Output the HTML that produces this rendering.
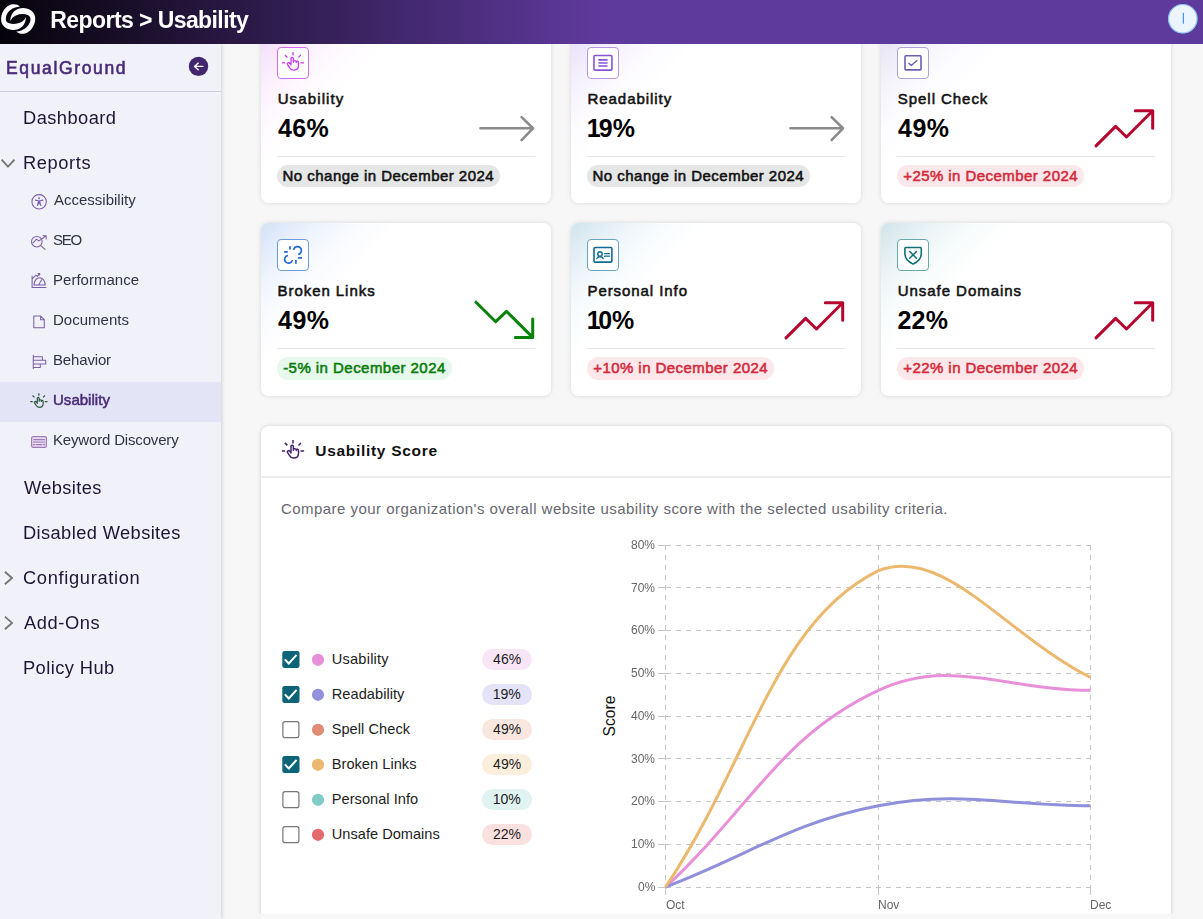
<!DOCTYPE html>
<html lang="en">
<head>
<meta charset="utf-8">
<title>Reports &gt; Usability</title>
<style>
*{box-sizing:border-box;margin:0;padding:0}
html,body{width:1203px;height:919px;overflow:hidden}
body{font-family:"Liberation Sans",sans-serif;background:#f7f7f7;color:#000;position:relative}
.t{position:absolute;white-space:nowrap;z-index:8}
.z6{z-index:8;will-change:transform}.z11{z-index:12}
#hdr{position:absolute;left:0;top:0;width:1203px;height:44px;background:linear-gradient(90deg,#06030a 0%,#5f3a9d 50%,#5f3a9d 100%);z-index:10}
#side{position:absolute;left:0;top:44px;width:221px;height:875px;background:#f1f2f9;z-index:5;box-shadow:1px 0 4px rgba(0,0,0,.16)}
#side .hr{position:absolute;left:0;top:47px;width:221px;height:1px;background:#cbcce0}
#side .sel{position:absolute;left:0;top:338px;width:221px;height:40px;background:#e3e4f5}
.card{position:absolute;width:290px;height:172px;background:#fff;border-radius:8px;box-shadow:0 0 5px rgba(0,0,0,.13);z-index:1}
.card .ib{position:absolute;left:16px;top:16px;width:32px;height:32px;border-radius:4px;border:1px solid #888;background:#fff}
.card .dv{position:absolute;left:16px;top:125px;width:258px;height:1px;background:#e7e7e7}
.pill{position:absolute;border-radius:12px;z-index:2}
.pg{background:#e5e7e7}.pr{background:#fce8ea}.pn{background:#e7f8ed}
#panel{position:absolute;left:261px;top:426px;width:910px;height:500px;background:#fff;border-radius:8px;box-shadow:0 0 4px rgba(0,0,0,.16);z-index:1}
#panel .hr{position:absolute;left:0;top:50px;width:910px;height:2px;background:#ededed}
#foot{position:absolute;left:222px;top:914px;width:981px;height:5px;background:#f7f7f7;z-index:4}
#ov{position:absolute;left:0;top:0;z-index:11}
</style>
</head>
<body>
<div id="hdr"></div>
<div id="side"><div class="hr"></div><div class="sel"></div></div>

<div class="card" style="left:261px;top:31px;height:172px;background:linear-gradient(135deg,#f3d8fc 0%,#f6e1fd 4.3%,#fbf1fe 13%,#fefaff 21.6%,#fff 30%)"><div class="ib" style="border-color:#d66bf3"></div><div class="dv"></div></div>
<div class="card" style="left:571px;top:31px;height:172px;background:linear-gradient(135deg,#e7dbfa 0%,#ede4fb 4.3%,#f6f2fd 13%,#fcfbfe 21.6%,#fff 30%)"><div class="ib" style="border-color:#b794e6"></div><div class="dv"></div></div>
<div class="card" style="left:881px;top:31px;height:172px;background:linear-gradient(135deg,#e2e0f3 0%,#e9e7f6 4.3%,#f5f4fb 13%,#fcfbfe 21.6%,#fff 30%)"><div class="ib" style="border-color:#a9a3d6"></div><div class="dv"></div></div>
<div class="card" style="left:261px;top:223px;height:173px;background:linear-gradient(135deg,#d2e1f7 0%,#dde8f9 4.3%,#eff4fc 13%,#fafbfe 21.6%,#fff 30%)"><div class="ib" style="border-color:#6b9be3"></div><div class="dv"></div></div>
<div class="card" style="left:571px;top:223px;height:173px;background:linear-gradient(135deg,#cfe3ee 0%,#dbeaf2 4.3%,#eef5f9 13%,#f9fcfd 21.6%,#fff 30%)"><div class="ib" style="border-color:#67a5c0"></div><div class="dv"></div></div>
<div class="card" style="left:881px;top:223px;height:173px;background:linear-gradient(135deg,#cfe4e9 0%,#dbeaee 4.3%,#eef5f7 13%,#f9fcfc 21.6%,#fff 30%)"><div class="ib" style="border-color:#66a9ad"></div><div class="dv"></div></div>

<div class="pill pg" style="left:277px;top:165px;width:223.1px;height:22px"></div>
<div class="pill pg" style="left:587px;top:165px;width:223.1px;height:22px"></div>
<div class="pill pr" style="left:897px;top:165px;width:186.8px;height:22px"></div>
<div class="pill pn" style="left:277px;top:357px;width:175px;height:22.5px"></div>
<div class="pill pr" style="left:587px;top:357px;width:186.8px;height:22.5px"></div>
<div class="pill pr" style="left:897px;top:357px;width:186.8px;height:22.5px"></div>

<div id="panel"><div class="hr"></div></div>
<div class="pill" style="left:482px;top:649px;width:50px;height:21px;background:#f8e6f6"></div>
<div class="pill" style="left:482px;top:684px;width:50px;height:21px;background:#e4e3f7"></div>
<div class="pill" style="left:482px;top:719px;width:50px;height:21px;background:#f9e6df"></div>
<div class="pill" style="left:482px;top:754px;width:50px;height:21px;background:#fbeedc"></div>
<div class="pill" style="left:482px;top:789px;width:50px;height:21px;background:#e0f3f1"></div>
<div class="pill" style="left:482px;top:824px;width:50px;height:21px;background:#fbe0e0"></div>
<div id="foot"></div>

<div class="t z11" id="x0" style="left:50.35px;top:9px;font-size:23px;line-height:23px;color:#fff;font-weight:bold;letter-spacing:-0.581px;">Reports &gt; Usability</div>
<div class="t z6" id="x1" style="left:5.76px;top:60px;font-size:17.5px;line-height:17.5px;color:#4a2b7a;letter-spacing:1.644px;-webkit-text-stroke:0.6px #4a2b7a;">EqualGround</div>
<div class="t z6" id="x2" style="left:22.70px;top:109px;font-size:18.3px;line-height:18.3px;color:#1f1535;letter-spacing:0.448px;">Dashboard</div>
<div class="t z6" id="x3" style="left:22.70px;top:154px;font-size:18.3px;line-height:18.3px;color:#1f1535;letter-spacing:0.588px;">Reports</div>
<div class="t z6" id="x4" style="left:23.97px;top:479px;font-size:18.3px;line-height:18.3px;color:#1f1535;letter-spacing:0.363px;">Websites</div>
<div class="t z6" id="x5" style="left:22.70px;top:524px;font-size:18.3px;line-height:18.3px;color:#1f1535;letter-spacing:0.388px;">Disabled Websites</div>
<div class="t z6" id="x6" style="left:23.14px;top:569px;font-size:18.3px;line-height:18.3px;color:#1f1535;letter-spacing:0.662px;">Configuration</div>
<div class="t z6" id="x7" style="left:23.65px;top:614px;font-size:18.3px;line-height:18.3px;color:#1f1535;letter-spacing:0.602px;">Add-Ons</div>
<div class="t z6" id="x8" style="left:22.70px;top:659px;font-size:18.3px;line-height:18.3px;color:#1f1535;letter-spacing:0.424px;">Policy Hub</div>
<div class="t z6" id="x9" style="left:53.74px;top:192px;font-size:15px;line-height:15px;color:#2f3344;letter-spacing:-0.005px;">Accessibility</div>
<div class="t z6" id="x10" style="left:53.06px;top:232px;font-size:15px;line-height:15px;color:#2f3344;letter-spacing:-1.269px;">SEO</div>
<div class="t z6" id="x11" style="left:52.52px;top:272px;font-size:15px;line-height:15px;color:#2f3344;letter-spacing:0.023px;">Performance</div>
<div class="t z6" id="x12" style="left:52.52px;top:312px;font-size:15px;line-height:15px;color:#2f3344;letter-spacing:0.006px;">Documents</div>
<div class="t z6" id="x13" style="left:52.52px;top:352px;font-size:15px;line-height:15px;color:#2f3344;letter-spacing:-0.155px;">Behavior</div>
<div class="t z6" id="x14" style="left:52.52px;top:432px;font-size:15px;line-height:15px;color:#2f3344;letter-spacing:-0.169px;">Keyword Discovery</div>
<div class="t z6" id="x15" style="left:52.97px;top:392px;font-size:15px;line-height:15px;color:#4a2b7a;letter-spacing:0.026px;-webkit-text-stroke:0.55px #4a2b7a;">Usability</div>
<div class="t" id="x16" style="left:277.65px;top:91px;font-size:15px;line-height:15px;color:#111;letter-spacing:1.131px;-webkit-text-stroke:0.55px #111;">Usability</div>
<div class="t" id="x17" style="left:277.97px;top:116px;font-size:25px;line-height:25px;color:#000;font-weight:bold;letter-spacing:0.317px;">46%</div>
<div class="t" id="x18" style="left:282.50px;top:168px;font-size:15px;line-height:15px;color:#111;letter-spacing:0.475px;-webkit-text-stroke:0.55px #111;">No change in December 2024</div>
<div class="t" id="x19" style="left:587.49px;top:91px;font-size:15px;line-height:15px;color:#111;letter-spacing:0.951px;-webkit-text-stroke:0.55px #111;">Readability</div>
<div class="t" id="x20" style="left:586.73px;top:116px;font-size:25px;line-height:25px;color:#000;font-weight:bold;"><span style="letter-spacing:-1.884px">1</span>9%</div>
<div class="t" id="x21" style="left:592.50px;top:168px;font-size:15px;line-height:15px;color:#111;letter-spacing:0.475px;-webkit-text-stroke:0.55px #111;">No change in December 2024</div>
<div class="t" id="x22" style="left:897.85px;top:91px;font-size:15px;line-height:15px;color:#111;letter-spacing:0.945px;-webkit-text-stroke:0.55px #111;">Spell Check</div>
<div class="t" id="x23" style="left:897.98px;top:116px;font-size:25px;line-height:25px;color:#000;font-weight:bold;letter-spacing:0.548px;">49%</div>
<div class="t" id="x24" style="left:903.18px;top:168px;font-size:15px;line-height:15px;color:#d42a3c;letter-spacing:0.444px;-webkit-text-stroke:0.55px #d42a3c;">+25% in December 2024</div>
<div class="t" id="x25" style="left:277.50px;top:283px;font-size:15px;line-height:15px;color:#111;letter-spacing:0.947px;-webkit-text-stroke:0.55px #111;">Broken Links</div>
<div class="t" id="x26" style="left:277.97px;top:308px;font-size:25px;line-height:25px;color:#000;font-weight:bold;letter-spacing:0.549px;">49%</div>
<div class="t" id="x27" style="left:283.13px;top:360px;font-size:15px;line-height:15px;color:#0a7d0a;letter-spacing:0.462px;-webkit-text-stroke:0.55px #0a7d0a;">-5% in December 2024</div>
<div class="t" id="x28" style="left:587.50px;top:283px;font-size:15px;line-height:15px;color:#111;letter-spacing:0.924px;-webkit-text-stroke:0.55px #111;">Personal Info</div>
<div class="t" id="x29" style="left:586.74px;top:308px;font-size:25px;line-height:25px;color:#000;font-weight:bold;"><span style="letter-spacing:-2.435px">1</span>0%</div>
<div class="t" id="x30" style="left:593.19px;top:360px;font-size:15px;line-height:15px;color:#d42a3c;letter-spacing:0.444px;-webkit-text-stroke:0.55px #d42a3c;">+10% in December 2024</div>
<div class="t" id="x31" style="left:897.66px;top:283px;font-size:15px;line-height:15px;color:#111;letter-spacing:0.962px;-webkit-text-stroke:0.55px #111;">Unsafe Domains</div>
<div class="t" id="x32" style="left:897.55px;top:308px;font-size:25px;line-height:25px;color:#000;font-weight:bold;letter-spacing:0.146px;">22%</div>
<div class="t" id="x33" style="left:903.19px;top:360px;font-size:15px;line-height:15px;color:#d42a3c;letter-spacing:0.444px;-webkit-text-stroke:0.55px #d42a3c;">+22% in December 2024</div>
<div class="t" id="x34" style="left:315.26px;top:443px;font-size:15.5px;line-height:15.5px;color:#111;font-weight:bold;letter-spacing:0.701px;">Usability Score</div>
<div class="t" id="x35" style="left:280.92px;top:501px;font-size:15px;line-height:15px;color:#67676f;letter-spacing:0.469px;">Compare your organization&#x27;s overall website usability score with the selected usability criteria.</div>
<div class="t" id="x36" style="left:331.80px;top:652px;font-size:14.6px;line-height:14.6px;color:#1c1c1c;letter-spacing:0.207px;">Usability</div>
<div class="t" id="x37" style="left:493.12px;top:652px;font-size:14px;line-height:14px;color:#1c1c1c;">46%</div>
<div class="t" id="x38" style="left:331.74px;top:687px;font-size:14.6px;line-height:14.6px;color:#1c1c1c;letter-spacing:0.048px;">Readability</div>
<div class="t" id="x39" style="left:492.75px;top:687px;font-size:14px;line-height:14px;color:#1c1c1c;">19%</div>
<div class="t" id="x40" style="left:331.68px;top:722px;font-size:14.6px;line-height:14.6px;color:#1c1c1c;letter-spacing:0.048px;">Spell Check</div>
<div class="t" id="x41" style="left:493.12px;top:722px;font-size:14px;line-height:14px;color:#1c1c1c;">49%</div>
<div class="t" id="x42" style="left:331.74px;top:757px;font-size:14.6px;line-height:14.6px;color:#1c1c1c;letter-spacing:0.033px;">Broken Links</div>
<div class="t" id="x43" style="left:493.12px;top:757px;font-size:14px;line-height:14px;color:#1c1c1c;">49%</div>
<div class="t" id="x44" style="left:331.74px;top:792px;font-size:14.6px;line-height:14.6px;color:#1c1c1c;letter-spacing:0.036px;">Personal Info</div>
<div class="t" id="x45" style="left:492.75px;top:792px;font-size:14px;line-height:14px;color:#1c1c1c;">10%</div>
<div class="t" id="x46" style="left:331.80px;top:827px;font-size:14.6px;line-height:14.6px;color:#1c1c1c;letter-spacing:0.009px;">Unsafe Domains</div>
<div class="t" id="x47" style="left:492.88px;top:827px;font-size:14px;line-height:14px;color:#1c1c1c;">22%</div>
<div class="t" id="x48" style="left:637.80px;top:881px;font-size:12px;line-height:12px;color:#666;will-change:transform;">0%</div>
<div class="t" id="x49" style="left:631.05px;top:838px;font-size:12px;line-height:12px;color:#666;will-change:transform;">10%</div>
<div class="t" id="x50" style="left:631.05px;top:795px;font-size:12px;line-height:12px;color:#666;will-change:transform;">20%</div>
<div class="t" id="x51" style="left:631.05px;top:753px;font-size:12px;line-height:12px;color:#666;will-change:transform;">30%</div>
<div class="t" id="x52" style="left:631.05px;top:710px;font-size:12px;line-height:12px;color:#666;will-change:transform;">40%</div>
<div class="t" id="x53" style="left:631.05px;top:667px;font-size:12px;line-height:12px;color:#666;will-change:transform;">50%</div>
<div class="t" id="x54" style="left:631.05px;top:624px;font-size:12px;line-height:12px;color:#666;will-change:transform;">60%</div>
<div class="t" id="x55" style="left:631.05px;top:582px;font-size:12px;line-height:12px;color:#666;will-change:transform;">70%</div>
<div class="t" id="x56" style="left:631.05px;top:539px;font-size:12px;line-height:12px;color:#666;will-change:transform;">80%</div>
<div class="t" id="x57" style="left:665.90px;top:899px;font-size:12px;line-height:12px;color:#666;will-change:transform;">Oct</div>
<div class="t" id="x58" style="left:878.40px;top:899px;font-size:12px;line-height:12px;color:#666;will-change:transform;">Nov</div>
<div class="t" id="x59" style="left:1090.40px;top:899px;font-size:12px;line-height:12px;color:#666;will-change:transform;">Dec</div>
<div class="t" style="left:601.7px;top:708px;width:16px;height:16px;z-index:8"><div style="position:absolute;left:-22px;top:0;width:60px;height:16px;line-height:16px;font-size:15.6px;text-align:center;color:#111;transform:rotate(-90deg);transform-origin:30px 8px">Score</div></div>

<svg id="ov" width="1203" height="919" viewBox="0 0 1203 919" fill="none" stroke-linecap="round" stroke-linejoin="round">
<defs>
<g id="hand">
<path d="M15.8 4.9V8.4M7.7 7.9L10.2 10.4M23.7 7.9L21.3 10.4M4.7 15.9H7.9M23.3 15.9H26.9" stroke-linecap="butt"/>
<path d="M13.8 17.9V11.5a1.2 1.2 0 0 1 2.4 0V15.2M16.2 14.4c.3-1 2.6-1 2.9.2M19.1 15.6v-1c.4-.8 2.2-.5 2.2 1.1V18.5c0 2.9-2.3 4.6-5.2 4.6c-2 0-3-1-3.9-2.65L10.2 17.4c-.5-1 .8-2.2 1.8-1.7L13.8 17.9"/>
</g>
<g id="up"><path d="M215 114.9L234.6 95.4L245.5 106L271.7 79.8M254.3 79.8H271.7V97.3"/></g>
<g id="dn"><path d="M215 79.2L234.7 98.7L245.5 88.3L271.7 114.4M271.7 96.1V114.4H254.3"/></g>
<g id="flat"><path d="M219.5 97.3H271.9M260.6 86.1L272 97.3L260.6 109.1"/></g>
</defs>
<!-- header logo -->
<g id="logo" fill="#fff" stroke="none">
<path id="lgA" d="M20 6.5C17.6 4.3 14.4 3.6 11 4.6C6.2 6 1.6 11.6 1.1 18.2C.8 22.4 2.3 25.2 4.9 27.2C8.6 30 13.6 30.6 17.8 29.2C22.6 27.6 25.6 23.6 26.1 17C24.8 19.4 23 21.4 20.4 22.6C16.6 24.3 12 24.4 8.6 23C6.2 22 5.4 20 5.9 17.4C6.6 13.6 9.6 9.6 14.4 7.8C16.4 7 18.2 6.6 20 6.5Z"/>
<use href="#lgA" transform="rotate(180 18.15 19)"/>
</g>
<!-- avatar -->
<circle cx="1182.8" cy="18.8" r="14.3" fill="#ecf5fe" stroke="#8cc4f8" stroke-width="1.2"/>
<path d="M1183.4 12.9V23.7" stroke="#4795ee" stroke-width="1.25" stroke-linecap="butt"/>
<!-- collapse btn -->
<circle cx="198.5" cy="66.4" r="9.7" fill="#43276e"/>
<path d="M202.9 66.4H194.5M198.2 63.1L194.5 66.4L198.2 69.8" stroke="#fff" stroke-width="1.4"/>
<!-- chevrons -->
<g stroke="#777" stroke-width="1.9" stroke-linecap="butt" stroke-linejoin="miter">
<path d="M1.6 159.7L8 166.6L14.5 159.7"/>
<path d="M4.9 571.7L12 578L4.9 584.3"/>
<path d="M4.9 616.6L12 622.9L4.9 629.2"/>
</g>
<!-- sidebar icons -->
<g stroke="#7b5ea7" stroke-width="1.05">
<circle cx="39.1" cy="201.8" r="7.2"/>
<circle cx="39.1" cy="198.3" r=".95" fill="#7b5ea7" stroke="none"/>
<path d="M35.4 200.2L39.1 201L42.8 200.2" stroke-width="1.25"/><path d="M38.2 200.9H40L41.5 205.7L40.4 206.1L39.1 203.4L37.8 206.1L36.7 205.7Z" fill="#7b5ea7" stroke="none"/>
<circle cx="36.8" cy="241.7" r="5.3"/>
<path d="M40.8 245.6L45 249.4M33 242.8L36.6 239.2L39 240.9L45.8 236M42.9 235.7H46.1V238.9"/>
<path d="M32.1 275.9V287.4H46M34 285A5.6 7.3 0 0 1 45.2 285ZM38.6 285L41.6 279.8M32.4 278.6L36 275.2L37.4 276.4L39.4 273.8M38 273.4H39.7V275"/>
<path d="M33.8 316H40.6L44.3 319.7V327.7H33.8ZM40.6 316V319.7H44.3"/>
<path d="M33.3 355.2V368.7M33.3 356.7H42.4V360.3H33.3M42.4 360.3H45.7V364H33.3M40.3 364V367.4H33.3"/>
</g>
<g stroke="#9f7bb9" stroke-width="1.2">
<rect x="31.6" y="436.6" width="14.8" height="10.8" rx="1.6" fill="#e9ddf0"/>
<path d="M33.6 439.6H44.4" />
<path d="M33.6 442.1H44.4" stroke-width="1.6" opacity=".6"/>
<path d="M33.4 444.6H34.6M36.2 444.6H41.8M43.4 444.6H44.6"/>
</g>
<g stroke="#2f5a40" stroke-width="1.6" transform="translate(38.85 401.7) scale(.777) translate(-15.8 -15.9)"><use href="#hand"/></g>
<!-- card icons -->
<g stroke="#c93df0" stroke-width="1.35" transform="translate(277.2 47)"><use href="#hand"/></g>
<g stroke="#8a52d6" transform="translate(587.2 47)"><rect x="6.75" y="8.55" width="18" height="14.6" rx="1.1" stroke-width="1.6"/><path d="M11.2 12.9H20.4M11.2 16H20.4M11.2 19H20.4" stroke-width="1.7" stroke-linecap="butt"/></g>
<g stroke="#6a5fb8" transform="translate(897.2 47)"><rect x="7.8" y="8.8" width="16" height="14.1" rx="0.9" stroke-width="1.6"/><path d="M11.6 16.3L14.1 18.6L19.7 13.6" stroke-width="1.4"/></g>
<g stroke="#2469d6" stroke-width="1.7" stroke-linecap="butt" transform="translate(277.2 239)">
<path d="M12.75 7.2V10.5M6.9 12.9H10.6M20.9 18.85H24.8M18.7 21.1V24.7"/>
<path d="M16.6 10.2A3.9 3.9 0 1 1 21.7 15.1M10.1 16.6A3.9 3.9 0 1 0 15 21.7" stroke-linecap="round"/>
</g>
<g stroke="#116a94" transform="translate(587.2 239)"><rect x="6.8" y="8.55" width="17.9" height="14.6" rx="1.1" stroke-width="1.6"/><circle cx="12.75" cy="15" r="2.2" stroke-width="1.4"/><path d="M9.6 19.6C10.4 17.2 15.1 17.2 15.9 19.6" stroke-width="1.4"/><path d="M17.4 14.6H22.3M17.4 17.2H22.3" stroke-width="1.3"/></g>
<g stroke="#0b7078" transform="translate(897.2 239)"><path d="M8.6 8.5H23.2Q24.1 8.5 24.1 9.4V14.6C24.1 19.6 20.4 23 15.9 25.1C11.4 23 7.7 19.6 7.7 14.6V9.4Q7.7 8.5 8.6 8.5Z" stroke-width="1.6"/><path d="M12.5 12.5L19.3 19.3M19.3 12.5L12.5 19.3" stroke-width="1.5"/></g>
<!-- trend arrows -->
<g stroke="#8b8b8b" stroke-width="2.6"><use href="#flat" x="261" y="31"/><use href="#flat" x="571" y="31"/></g>
<g stroke="#b5072f" stroke-width="3"><use href="#up" x="881" y="31"/><use href="#up" x="571" y="223"/><use href="#up" x="881" y="223"/></g>
<g stroke="#088208" stroke-width="3"><use href="#dn" x="261" y="223"/></g>
<!-- panel icon -->
<g stroke="#45256f" stroke-width="1.5" transform="translate(293 450.9) translate(-15.8 -15.9)"><use href="#hand"/></g>
<!-- checkboxes -->
<g id="cbs">
<rect x="282.3" y="651" width="17.2" height="17" rx="2.2" fill="#0d6478"/>
<rect x="282.3" y="686" width="17.2" height="17" rx="2.2" fill="#0d6478"/>
<rect x="282.3" y="756" width="17.2" height="17" rx="2.2" fill="#0d6478"/>
<g stroke="#fff" stroke-width="2" stroke-linecap="butt" stroke-linejoin="miter"><path d="M284.8 659.4L288.8 663.5L296.6 654.9"/><path d="M284.8 694.4L288.8 698.5L296.6 689.9"/><path d="M284.8 764.4L288.8 768.5L296.6 759.9"/></g>
<g stroke="#767676" stroke-width="1.2" fill="#fff"><rect x="282.9" y="721.6" width="16" height="16" rx="2.2"/><rect x="282.9" y="791.6" width="16" height="16" rx="2.2"/><rect x="282.9" y="826.6" width="16" height="16" rx="2.2"/></g>
</g>
<g stroke="none">
<circle cx="318" cy="659.8" r="6.1" fill="#e88fd9"/><circle cx="318" cy="694.8" r="6.1" fill="#9490dc"/><circle cx="318" cy="729.8" r="6.1" fill="#e08b74"/><circle cx="318" cy="764.8" r="6.1" fill="#ecb86e"/><circle cx="318" cy="799.8" r="6.1" fill="#7fcbc6"/><circle cx="318" cy="834.8" r="6.1" fill="#e46a6c"/>
</g>
<!-- chart -->
<g stroke-linecap="butt">
<path d="M658 887.5H666" stroke="#c6c6c6"/>
<path d="M666 887.5H1091" stroke="#c6c6c6" stroke-dasharray="5 5"/>
<path d="M658 844.5H666" stroke="#c6c6c6"/>
<path d="M666 844.5H1091" stroke="#c6c6c6" stroke-dasharray="5 5"/>
<path d="M658 801.5H666" stroke="#c6c6c6"/>
<path d="M666 801.5H1091" stroke="#c6c6c6" stroke-dasharray="5 5"/>
<path d="M658 758.5H666" stroke="#c6c6c6"/>
<path d="M666 758.5H1091" stroke="#c6c6c6" stroke-dasharray="5 5"/>
<path d="M658 716.5H666" stroke="#c6c6c6"/>
<path d="M666 716.5H1091" stroke="#c6c6c6" stroke-dasharray="5 5"/>
<path d="M658 673.5H666" stroke="#c6c6c6"/>
<path d="M666 673.5H1091" stroke="#c6c6c6" stroke-dasharray="5 5"/>
<path d="M658 630.5H666" stroke="#c6c6c6"/>
<path d="M666 630.5H1091" stroke="#c6c6c6" stroke-dasharray="5 5"/>
<path d="M658 587.5H666" stroke="#c6c6c6"/>
<path d="M666 587.5H1091" stroke="#c6c6c6" stroke-dasharray="5 5"/>
<path d="M658 545.5H666" stroke="#c6c6c6"/>
<path d="M666 545.5H1091" stroke="#c6c6c6" stroke-dasharray="5 5"/>
<path d="M665.5 545V887" stroke="#c6c6c6" stroke-dasharray="5 5"/>
<path d="M665.5 887v8" stroke="#c6c6c6"/>
<path d="M878.5 545V887" stroke="#c6c6c6" stroke-dasharray="5 5"/>
<path d="M878.5 887v8" stroke="#c6c6c6"/>
<path d="M1090.5 545V887" stroke="#c6c6c6" stroke-dasharray="5 5"/>
<path d="M1090.5 887v8" stroke="#c6c6c6"/>
<path d="M665.50 887.00C750.70 808.34 780.31 735.78 878.50 690.35C950.31 657.12 1005.70 690.35 1090.50 690.35" stroke="#e88fd9" stroke-width="3" fill="none" stroke-linecap="butt"/>
<path d="M665.50 887.00C750.70 854.51 790.42 822.61 878.50 805.77C960.42 790.12 1005.70 805.77 1090.50 805.77" stroke="#8f8fdc" stroke-width="3" fill="none"/>
<path d="M665.50 887.00C750.70 760.46 773.73 622.29 878.50 570.65C943.73 545.00 1005.70 634.77 1090.50 677.52" stroke="#ecb86e" stroke-width="3" fill="none"/>
</g>
</svg>
</body>
</html>
